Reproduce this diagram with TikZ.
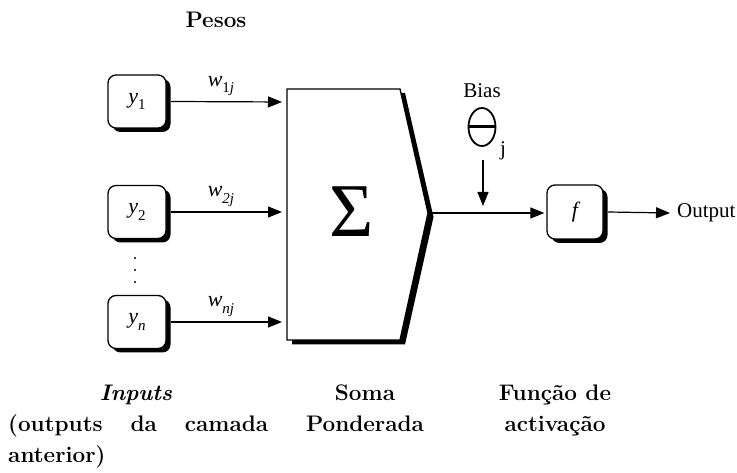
\documentclass[tikz,border=0pt]{standalone}
\usepackage{fontspec}
\newfontfamily\timesf{Liberation Serif}
\usetikzlibrary{arrows.meta,shadows}

% small lowered index in the serif face
\newcommand\lowidx[1]{\raisebox{-0.3em}{\fontsize{15}{15}\selectfont #1}}

\begin{document}
\begin{tikzpicture}[x=1pt,y=-1pt,
  unit/.style={draw, line width=1.3pt, rounded corners=8pt, fill=white,
    minimum width=58pt, minimum height=53pt, inner sep=0pt,
    font=\timesf\fontsize{22}{26}\selectfont,
    drop shadow={opacity=1, fill=black, shadow xshift=4.5pt, shadow yshift=-4pt}},
  conn/.style={line width=1.2pt, -{Triangle[length=14pt,width=11pt]}},
  wlabel/.style={font=\timesf\fontsize{22}{26}\selectfont, inner sep=0pt},
  serif/.style={font=\timesf\fontsize{21}{25}\selectfont, inner sep=0pt},
  caption/.style={font=\bfseries\fontsize{22.5}{27}\selectfont, inner sep=0pt, anchor=base},
]
\useasboundingbox (0,0) rectangle (737,473);

% input units
\node[unit] (y1) at (137,101.5) {\itshape y\lowidx{\upshape 1}};
\node[unit] (y2) at (137,212)   {\itshape y\lowidx{\upshape 2}};
\node[unit] (yn) at (137,322)   {\itshape y\lowidx{n}};

% vertical ellipsis between y2 and yn
\foreach \yy in {258,270,282} \fill (135,\yy) circle (1.1pt);

% summation block with its shadow
\fill (292,93) -- (405,93) -- (433.5,217) -- (405,344.5) -- (292,344.5) -- cycle;
\filldraw[fill=white, line width=1.3pt]
  (287,89) -- (400,89) -- (428,213) -- (400,340) -- (287,340) -- cycle;
\node[font=\timesf\fontsize{76}{76}\selectfont, inner sep=0pt] (sum) at (352,212) {Σ};
\coordinate (in1) at (287,102);
\coordinate (in2) at (287,212);
\coordinate (inn) at (287,322);
\coordinate (sout) at (428,213);

% weighted connections
\draw[conn, shorten >=5pt] ([xshift=4.5pt]y1.east) -- (in1)
  node[wlabel, pos=0.43, above=5pt] (w1) {\itshape w\lowidx{\upshape 1\itshape j}};
\draw[conn, shorten >=5pt] ([xshift=4.5pt]y2.east) -- (in2)
  node[wlabel, pos=0.43, above=5pt] (w2) {\itshape w\lowidx{2\itshape j}};
\draw[conn, shorten >=5pt] ([xshift=4.5pt]yn.east) -- (inn)
  node[wlabel, pos=0.43, above=5pt] (wn) {\itshape w\lowidx{nj}};

% activation unit
\node[unit, minimum width=56pt, minimum height=54pt] (f) at (575,212) {\itshape f};
\draw[conn, shorten >=2pt] (sout) -- (f.west |- sout);

% bias
\node[serif] (bias) at (482,91) {Bias};
\draw[line width=1.8pt] (482,127) ellipse (13.5pt and 19pt);
\draw[line width=3pt] (468.5,127) -- (495.5,127);
\coordinate (theta) at (482,127);
\node[serif] (jidx) at (503,151) {j};
\coordinate (btop) at (483,160);
\coordinate (bend) at (483,206);
\draw[conn] (btop) -- (bend);

% output
\node[serif, anchor=west] (out) at (677,213) {Output};
\draw[conn] ([xshift=4.5pt]f.east) -- ([xshift=-7pt]out.west);

% captions
\node[caption] (pesos) at (216,28) {Pesos};
\node[caption] (inp) at (136,400) {\itshape Inputs};
\node[caption, anchor=base west] (inp2) at (8,431) {\hbox to 260pt{(outputs\hfill da\hfill camada}};
\node[caption, anchor=base west] (inp3) at (8,462) {anterior)};
\node[caption] (soma) at (365,400) {Soma};
\node[caption] (pond) at (365,431) {Ponderada};
\node[caption] (func) at (555,400) {Função de};
\node[caption] (activ) at (555,431) {activação};
\end{tikzpicture}
\end{document}
